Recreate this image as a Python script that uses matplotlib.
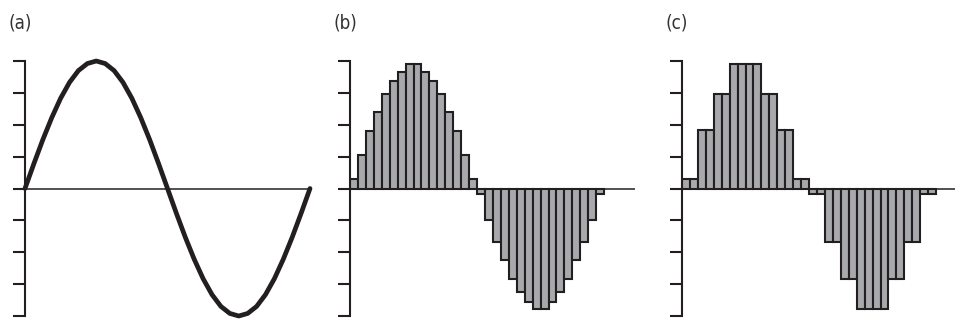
import numpy as np
import matplotlib
matplotlib.use("Agg")
import matplotlib.pyplot as plt

# (a) 연속 파형 - 한 주기를 33점으로 읽음
wave_x = np.arange(33)
wave_y = [0.0, 0.78, 1.53, 2.22, 2.83, 3.33, 3.70, 3.92, 4.0, 3.92, 3.70, 3.33, 2.83, 2.22, 1.53, 0.78,
          0.0, -0.78, -1.53, -2.22, -2.83, -3.33, -3.70, -3.92, -4.0, -3.92, -3.70, -3.33, -2.83, -2.22, -1.53, -0.78, 0.0]

# (b) 샘플링 막대 32개
sampled = [0.31, 1.04, 1.80, 2.41, 2.95, 3.36, 3.65, 3.90, 3.90, 3.65, 3.36, 2.95, 2.41, 1.80, 1.04, 0.31,
           -0.18, -0.98, -1.67, -2.24, -2.83, -3.25, -3.56, -3.77, -3.77, -3.56, -3.25, -2.83, -2.24, -1.67, -0.98, -0.18]

# (c) 양자화 막대 32개
quantized = [0.31, 0.31, 1.82, 1.82, 2.97, 2.97, 3.90, 3.90, 3.90, 3.90, 2.97, 2.97, 1.82, 1.82, 0.31, 0.31,
             -0.18, -0.18, -1.67, -1.67, -2.83, -2.83, -3.77, -3.77, -3.77, -3.77, -2.83, -2.83, -1.67, -1.67, -0.18, -0.18]

labels = ["(a)", "(b)", "(c)"]
yticks = [-4, -3, -2, -1, 0, 1, 2, 3, 4]

W, H = 955, 324
fig = plt.figure(figsize=(W / 100, H / 100), dpi=100)

ink = "#231f20"
bar_gray = "#a7a9ac"
lefts = [25, 350, 682]
label_x = [8, 333, 665]
ax_w = 285
bottom, top = 316, 61


def make_axes(left):
    ax = fig.add_axes([left / W, (H - bottom) / H, ax_w / W, (bottom - top) / H])
    ax.set_ylim(-4, 4)
    for s in ["top", "right", "bottom"]:
        ax.spines[s].set_visible(False)
    ax.spines["left"].set_linewidth(1.5)
    ax.spines["left"].set_color(ink)
    ax.set_yticks(yticks)
    ax.set_yticklabels([])
    ax.tick_params(axis="y", direction="out", length=8.5, width=1.5, color=ink)
    ax.set_xticks([])
    ax.axhline(0, color=ink, lw=1.1, zorder=1)
    ax.patch.set_alpha(0)
    return ax


# (a)
ax = make_axes(lefts[0])
ax.set_xlim(0, 32)
ax.plot(wave_x, wave_y, color=ink, lw=3.4, solid_capstyle="round", solid_joinstyle="round",
        clip_on=False, zorder=3)

# (b), (c)
for left, vals in [(lefts[1], sampled), (lefts[2], quantized)]:
    ax = make_axes(left)
    ax.set_xlim(0, ax_w / 7.94)
    ax.bar(np.arange(len(vals)), vals, width=1.0, align="edge", color=bar_gray,
           edgecolor=ink, linewidth=1.5, zorder=2)

for x, lab in zip(label_x, labels):
    fig.text(x / W, (H - 23) / H, lab, fontsize=13.5, color="#333333", va="center",
             family=["Liberation Sans Narrow", "DejaVu Sans"], fontstretch="condensed")

fig.savefig("out.png", dpi=100)
